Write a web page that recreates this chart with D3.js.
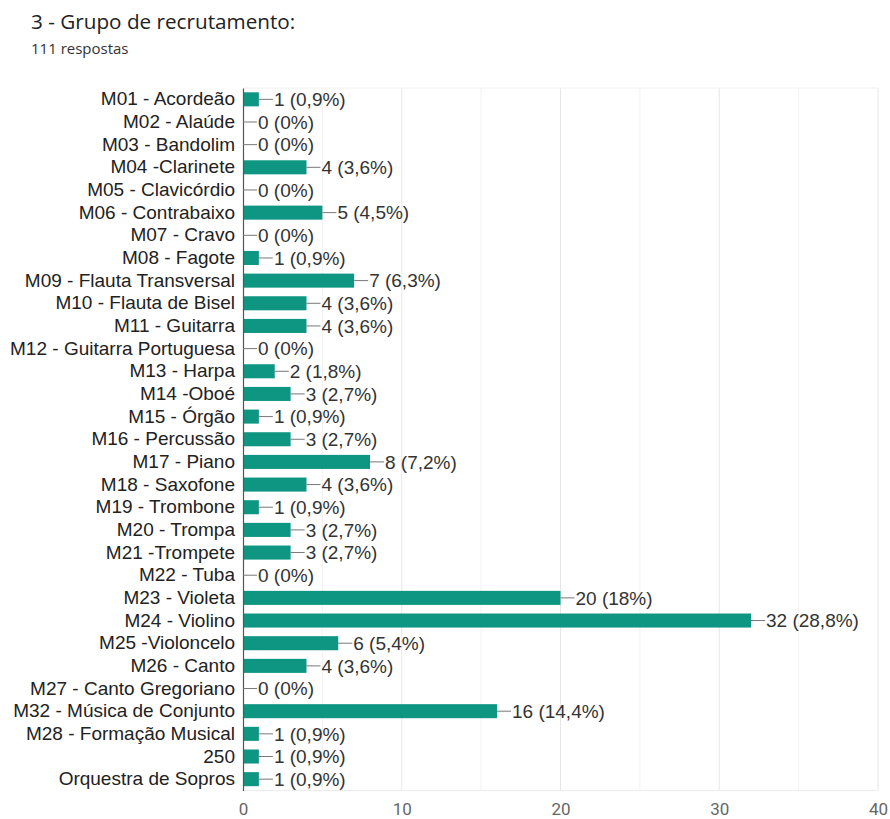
<!DOCTYPE html>
<html><head><meta charset="utf-8">
<script src="https://cdn.jsdelivr.net/npm/d3@7"></script>
<style>body{margin:0;background:#fff;} svg{display:block;}</style>
</head><body>
<svg id="c" width="890" height="819"></svg>
<script>
const categories = ["M01 - Acordeão","M02 - Alaúde","M03 - Bandolim","M04 -Clarinete","M05 - Clavicórdio","M06 - Contrabaixo","M07 - Cravo","M08 - Fagote","M09 - Flauta Transversal","M10 - Flauta de Bisel","M11 - Guitarra","M12 - Guitarra Portuguesa","M13 - Harpa","M14 -Oboé","M15 - Órgão","M16 - Percussão","M17 - Piano","M18 - Saxofone","M19 - Trombone","M20 - Trompa","M21 -Trompete","M22 - Tuba","M23 - Violeta","M24 - Violino","M25 -Violoncelo","M26 - Canto","M27 - Canto Gregoriano","M32 - Música de Conjunto","M28 - Formação Musical","250","Orquestra de Sopros"];
const values = [1,0,0,4,0,5,0,1,7,4,4,0,2,3,1,3,8,4,1,3,3,0,20,32,6,4,0,16,1,1,1];
const percents = ["0,9%","0%","0%","3,6%","0%","4,5%","0%","0,9%","6,3%","3,6%","3,6%","0%","1,8%","2,7%","0,9%","2,7%","7,2%","3,6%","0,9%","2,7%","2,7%","0%","18%","28,8%","5,4%","3,6%","0%","14,4%","0,9%","0,9%","0,9%"];
const xTicks = [0,10,20,30,40];
const gridTicks = [0,5,10,15,20,25,30,35,40];
const title = "3 - Grupo de recrutamento:";
const subtitle = "111 respostas";

(function(){
const svg = d3.select("#c");
const pl = 243, pr = 878, pt = 88, pb = 790.5;
const x = d3.scaleLinear().domain([0,40]).range([pl,pr]);
const y = d3.scaleBand().domain(categories).range([pt,pb]).paddingInner(0.38).paddingOuter(0.19);

svg.append("text").attr("x",31).attr("y",29).attr("font-family","'Open Sans', Roboto, sans-serif")
  .attr("font-size",20.7).attr("fill","#202124").text(title);
svg.append("text").attr("x",31).attr("y",54).attr("font-family","'Open Sans', Roboto, sans-serif")
  .attr("font-size",15).attr("fill","#333").text(subtitle);

// grid
svg.append("g").selectAll("line").data(gridTicks.filter(d=>d>0)).join("line")
  .attr("x1",d=>x(d)).attr("x2",d=>x(d)).attr("y1",pt).attr("y2",pb)
  .attr("stroke",d=>d%10===0?"#e6e6e6":"#f2f2f2").attr("stroke-width",1);
svg.append("line").attr("x1",pl).attr("x2",pr).attr("y1",pt).attr("y2",pt).attr("stroke","#f0f0f0");
svg.append("line").attr("x1",pl).attr("x2",pr).attr("y1",pb).attr("y2",pb).attr("stroke","#ececec");

// x axis
const xa = svg.append("g").attr("transform",`translate(0,${pb})`)
  .call(d3.axisBottom(x).tickValues(xTicks).tickSize(0).tickPadding(12));
xa.select(".domain").remove();
xa.selectAll("text").attr("font-family","Roboto, 'Liberation Sans', sans-serif").attr("font-size",17).attr("fill","#666");

const fs = 19;
const ff = "'Liberation Sans', Arial, sans-serif";
// bars
svg.append("g").selectAll("rect").data(values).join("rect")
  .attr("x",x(0)).attr("y",(d,i)=>y(categories[i]))
  .attr("width",d=>x(d)-x(0)).attr("height",y.bandwidth())
  .attr("fill","#0f9683");

// y axis labels
const ya = svg.append("g").attr("transform",`translate(${pl},0)`)
  .call(d3.axisLeft(y).tickSize(0).tickPadding(8));
ya.select(".domain").attr("stroke","#555").attr("stroke-width",1.2);
ya.selectAll("text").attr("font-family",ff).attr("font-size",fs).attr("fill","#222");

// value labels with leader
const lab = svg.append("g");
values.forEach((v,i)=>{
  const cy = y(categories[i]) + y.bandwidth()/2;
  const x0 = x(v);
  lab.append("line").attr("x1",x0).attr("x2",x0+14).attr("y1",cy).attr("y2",cy).attr("stroke","#777").attr("stroke-width",1);
  lab.append("text").attr("x",x0+15).attr("y",cy).attr("dy","0.36em")
    .attr("font-family",ff).attr("font-size",fs).attr("fill","#333")
    .text(`${v} (${percents[i]})`);
});
})();
</script>
</body></html>
